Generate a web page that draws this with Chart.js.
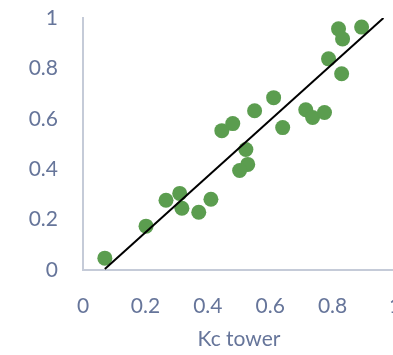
<!DOCTYPE html>
<html>
<head>
<meta charset="utf-8">
<script src="https://cdn.jsdelivr.net/npm/chart.js@4"></script>
<style>
  html, body { margin: 0; padding: 0; background: #fff; overflow: hidden; }
  #wrap { width: 393px; height: 355px; overflow: hidden; }
</style>
</head>
<body>
<div id="wrap"><canvas id="myChart" width="420" height="355"></canvas></div>
<script>
// measured vs tower Kc
var kcTower = [0.070, 0.202, 0.266, 0.310, 0.317, 0.371, 0.410, 0.445, 0.480, 0.550, 0.611, 0.640,
               0.522, 0.528, 0.502, 0.714, 0.736, 0.774, 0.787, 0.829, 0.819, 0.832, 0.893];
var kcModel = [0.047, 0.174, 0.277, 0.304, 0.245, 0.229, 0.281, 0.553, 0.581, 0.632, 0.684, 0.565,
               0.478, 0.419, 0.395, 0.636, 0.605, 0.625, 0.838, 0.779, 0.957, 0.917, 0.964];

// fitted line end points
var fitX = [0.070, 0.963];
var fitY = [0.004, 1.0];

var tickValues = [0, 0.2, 0.4, 0.6, 0.8, 1];

var pts = kcTower.map(function (x, i) { return {x: x, y: kcModel[i]}; });
var fit = fitX.map(function (x, i) { return {x: x, y: fitY[i]}; });

var labelColor = "#66759a";
var axisColor = "#c5cbd8";
var fontFamily = "Lato, 'Open Sans', sans-serif";

new Chart("myChart", {
    type: "scatter",
    data: {
        datasets: [{
            data: fit,
            type: "line",
            borderColor: "#000000",
            borderWidth: 2,
            pointRadius: 0,
            fill: false
        }, {
            data: pts,
            backgroundColor: "#5b9d4f",
            borderWidth: 0,
            pointRadius: 7.5,
            pointHoverRadius: 7.5
        }]
    },
    options: {
        responsive: false,
        animation: false,
        events: [],
        layout: {padding: 0},
        plugins: {legend: {display: false}, tooltip: {enabled: false}},
        scales: {
            x: {
                type: "linear",
                min: 0,
                max: 1,
                afterBuildTicks: function (axis) {
                    axis.ticks = tickValues.map(function (v) { return {value: v}; });
                },
                afterFit: function (axis) {
                    axis.height = 85;
                    axis.paddingLeft = 0;
                    axis.paddingRight = 25;
                },
                grid: {display: false, drawTicks: false},
                border: {color: axisColor, width: 2},
                ticks: {
                    color: labelColor,
                    font: {family: fontFamily, size: 21},
                    padding: 24,
                    maxRotation: 0,
                    callback: function (v) { return v; }
                },
                title: {
                    display: true,
                    text: "Kc tower",
                    color: labelColor,
                    font: {family: fontFamily, size: 21},
                    padding: {top: 0, bottom: 3}
                }
            },
            y: {
                type: "linear",
                min: 0,
                max: 1,
                afterBuildTicks: function (axis) {
                    axis.ticks = tickValues.map(function (v) { return {value: v}; });
                },
                afterFit: function (axis) {
                    axis.width = 83;
                    axis.paddingTop = 18;
                    axis.paddingBottom = 0;
                },
                grid: {display: false, drawTicks: false},
                border: {color: axisColor, width: 2},
                ticks: {
                    color: labelColor,
                    font: {family: fontFamily, size: 21},
                    padding: 25,
                    callback: function (v) { return v; }
                }
            }
        }
    }
});
</script>
</body>
</html>
